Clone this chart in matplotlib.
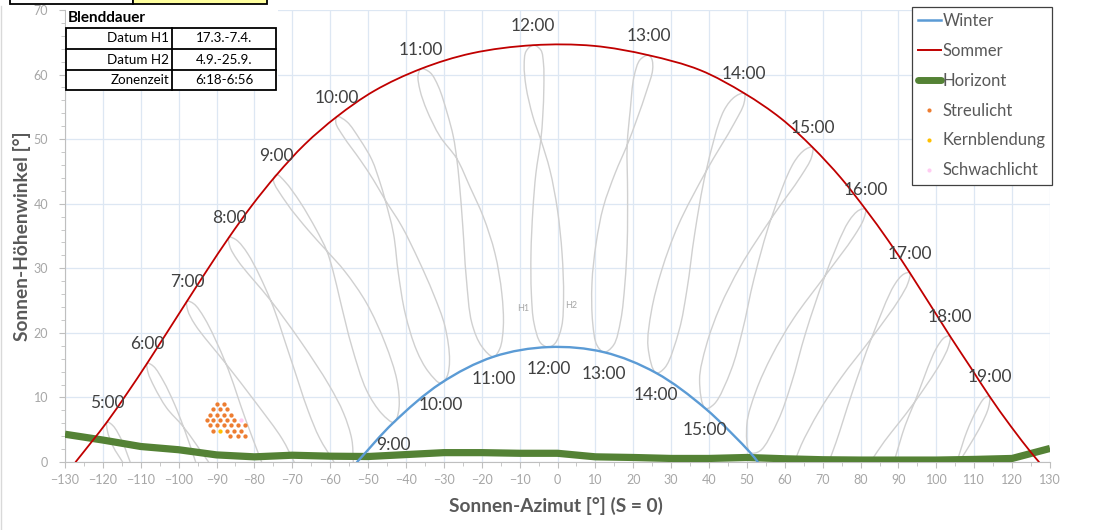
import numpy as np
import matplotlib
matplotlib.use("Agg")
import matplotlib.pyplot as plt
from matplotlib.path import Path
from matplotlib.patches import PathPatch, Rectangle
from matplotlib.lines import Line2D

plt.rcParams['font.family'] = ['Lato', 'DejaVu Sans']

# ---------------- data ----------------
# Sun path on the longest day (Sommer) and the shortest day (Winter): azimuth / altitude in degrees
summer_az = [-127.2, -123.0, -118.9, -113.3, -108.3, -97.8, -92.4, -86.7, -80.7, -74.1, -66.7,
             -58.2, -48.3, -36.0, -22.6, -6.4, 9.5, 24.0, 37.6, 49.3, 59.0, 67.3, 74.8, 81.3,
             87.3, 93.0, 103.6, 109.1, 114.0, 119.7, 125.1, 127.1]
summer_alt = [0.0, 3.1, 6.2, 10.9, 15.3, 24.9, 29.8, 34.8, 39.7, 44.5, 49.2,
              53.5, 57.5, 60.9, 63.3, 64.55, 64.45, 63.0, 60.7, 57.1, 53.2, 48.75, 44.0, 39.15,
              34.3, 29.3, 19.5, 14.6, 10.2, 5.5, 1.4, 0.0]

winter_az = [-52.9, -43.3, -30.8, -16.9, -2.3, 12.3, 26.0, 39.0, 50.8, 52.9]
winter_alt = [0.0, 6.1, 12.2, 16.3, 17.8, 17.0, 13.8, 8.3, 1.5, 0.0]

# Horizon profile
horizon_az = [-130, -120, -110, -100, -90, -80, -70, -60, -50, -40, -30, -20, -10, 0,
              10, 20, 30, 40, 50, 60, 70, 80, 90, 100, 110, 120, 130]
horizon_alt = [4.3, 3.4, 2.4, 1.9, 1.1, 0.8, 1.05, 0.9, 0.85, 1.15, 1.45, 1.45, 1.35, 1.35,
               0.8, 0.7, 0.55, 0.55, 0.7, 0.5, 0.35, 0.3, 0.3, 0.3, 0.4, 0.55, 2.1]

# Hour marks on the two solstice paths
summer_labels = ['5:00', '6:00', '7:00', '8:00', '9:00', '10:00', '11:00', '12:00',
                 '13:00', '14:00', '15:00', '16:00', '17:00', '18:00', '19:00']
summer_hour_az = [-118.9, -108.3, -97.8, -86.7, -74.1, -58.2, -36.0, -6.4,
                  24.0, 49.3, 67.3, 81.3, 93.0, 103.6, 114.0]
summer_hour_alt = [6.2, 15.3, 24.9, 34.8, 44.5, 53.5, 60.9, 64.55,
                   63.0, 57.1, 48.75, 39.15, 29.3, 19.5, 10.2]

winter_labels = ['9:00', '10:00', '11:00', '12:00', '13:00', '14:00', '15:00']
winter_hour_az = [-43.3, -30.8, -16.9, -2.3, 12.3, 26.0, 39.0]
winter_hour_alt = [6.1, 12.2, 16.3, 17.8, 17.0, 13.8, 8.3]

# Analemma of each full hour (Zonenzeit) over the year, points in seasonal order
loop_0500 = [(-112.8, 0.0), (-114.9, 3.2), (-117.3, 5.6), (-118.9, 6.2), (-118.8, 4.8),
             (-117.3, 2.4), (-114.8, 0.0)]
loop_0600 = [(-95.5, 0.0), (-98.7, 5.4), (-101.2, 9.1), (-104.0, 12.5), (-106.6, 14.8),
             (-108.3, 15.3), (-108.1, 13.9), (-106.4, 11.6), (-103.2, 8.4), (-98.7, 5.4),
             (-92.1, 0.0)]
loop_0700 = [(-78.1, 0.0), (-82.4, 6.7), (-87.5, 15.2), (-93.2, 22.3), (-96.0, 24.5),
             (-97.8, 24.9), (-97.6, 23.5), (-95.7, 21.3), (-87.5, 15.2), (-79.5, 9.1),
             (-72.7, 3.6), (-69.5, 0.0)]
loop_0800 = [(-59.0, 0.0), (-62.8, 3.7), (-65.8, 7.9), (-70.6, 16.3), (-75.7, 25.0),
             (-81.7, 32.2), (-84.8, 34.4), (-86.7, 34.8), (-86.5, 33.4), (-84.4, 31.2),
             (-75.7, 25.0), (-67.6, 18.5), (-60.3, 11.9), (-56.5, 7.6), (-54.3, 3.5),
             (-53.9, 0.0)]
loop_0900 = [(-43.3, 6.1), (-46.4, 7.5), (-50.4, 11.1), (-54.3, 17.9), (-57.2, 24.6),
             (-59.3, 29.7), (-60.9, 32.7), (-63.6, 35.9), (-68.0, 40.3), (-71.9, 43.4),
             (-74.1, 44.5), (-75.0, 43.7), (-71.5, 40.1), (-65.8, 35.9), (-60.9, 32.7),
             (-56.1, 29.5), (-50.4, 24.6), (-45.5, 18.4), (-42.4, 12.7), (-41.8, 8.6),
             (-42.6, 6.5), (-43.3, 6.1)]
loop_1000 = [(-30.8, 12.2), (-34.1, 14.0), (-37.2, 17.3), (-40.2, 23.0), (-42.0, 29.2),
             (-43.3, 35.4), (-45.5, 40.6), (-46.8, 43.2), (-49.0, 46.8), (-52.1, 49.9),
             (-55.6, 52.7), (-58.2, 53.5), (-58.5, 52.5), (-56.5, 50.4), (-52.1, 46.8),
             (-48.6, 43.7), (-45.5, 40.6), (-41.1, 36.5), (-36.7, 31.3), (-32.8, 26.1),
             (-29.7, 21.0), (-28.5, 15.8), (-29.2, 13.2), (-30.8, 12.2)]
loop_1100 = [(-16.9, 16.3), (-20.0, 17.9), (-22.6, 21.5), (-24.1, 28.7), (-25.0, 36.5),
             (-25.9, 43.2), (-26.6, 47.0), (-27.5, 50.4), (-29.1, 54.0), (-31.4, 58.1),
             (-33.6, 60.3), (-36.0, 60.9), (-36.8, 59.9), (-36.3, 57.6), (-34.5, 54.5),
             (-31.0, 50.4), (-26.6, 47.0), (-23.1, 42.6), (-19.6, 38.0), (-16.5, 32.3),
             (-14.7, 26.1), (-14.3, 21.0), (-15.2, 17.6), (-16.9, 16.3)]
loop_1200 = [(-2.3, 17.8), (-4.4, 18.4), (-6.2, 21.5), (-6.9, 26.1), (-7.0, 32.3),
             (-6.5, 39.0), (-5.7, 44.7), (-4.4, 49.9), (-3.9, 53.5), (-3.6, 58.1),
             (-3.7, 61.7), (-4.4, 63.8), (-6.4, 64.55), (-8.3, 63.6), (-8.8, 61.5),
             (-8.3, 58.1), (-6.5, 53.5), (-4.4, 49.9), (-2.0, 45.2), (0.0, 39.0),
             (1.2, 32.3), (1.6, 25.6), (1.1, 21.0), (-0.6, 18.4), (-2.3, 17.8)]
loop_1300 = [(12.3, 17.0), (10.4, 18.1), (9.3, 21.5), (9.1, 27.7), (10.2, 33.9),
             (12.1, 39.5), (15.2, 44.7), (18.4, 49.1), (20.9, 53.0), (23.6, 57.6),
             (25.1, 60.7), (24.9, 62.4), (24.0, 63.0), (21.8, 62.3), (20.2, 59.7),
             (19.2, 54.5), (18.4, 49.1), (18.5, 41.6), (18.4, 33.9), (17.8, 27.7),
             (16.7, 22.0), (14.8, 18.1), (12.3, 17.0)]
loop_1400 = [(26.0, 13.8), (23.9, 17.8), (24.8, 23.4), (27.5, 29.7), (31.9, 36.7),
             (39.2, 45.0), (46.6, 52.4), (49.2, 55.5), (49.3, 57.1), (46.9, 56.6),
             (43.9, 54.4), (39.2, 45.0), (36.2, 35.3), (34.2, 26.8), (32.1, 20.4),
             (28.4, 14.65), (26.0, 13.8)]
loop_1500 = [(39.0, 8.3), (37.5, 12.7), (39.3, 18.1), (42.9, 24.0), (48.3, 30.3),
             (56.4, 37.7), (64.3, 44.3), (67.0, 47.1), (67.3, 48.75), (65.4, 48.4),
             (62.4, 46.4), (56.4, 37.7), (51.9, 28.45), (48.8, 20.3), (45.8, 14.2),
             (41.4, 9.0), (39.0, 8.3)]
loop_1600 = [(50.8, 1.5), (50.0, 5.9), (52.4, 11.0), (56.6, 16.5), (62.3, 22.2),
             (70.6, 28.8), (78.2, 34.9), (80.8, 37.6), (81.3, 39.15), (79.6, 39.0),
             (76.8, 37.2), (70.6, 28.8), (65.5, 20.0), (61.7, 12.1), (58.2, 6.4),
             (53.4, 1.7), (50.8, 1.5)]
loop_1700 = [(62.6, 0.0), (64.3, 2.6), (68.9, 7.7), (74.8, 13.0), (82.9, 19.2),
             (90.1, 25.1), (92.5, 27.7), (93.0, 29.3), (91.4, 29.1), (88.9, 27.4),
             (82.9, 19.2), (77.7, 10.6), (73.5, 3.0), (71.6, 0.0)]
loop_1800 = [(82.6, 0.0), (86.3, 3.2), (89.9, 5.9), (94.3, 9.3), (101.0, 15.2),
             (103.2, 17.9), (103.6, 19.5), (102.2, 19.3), (99.9, 17.5), (94.3, 9.3),
             (91.8, 5.7), (88.8, 0.0)]
loop_1900 = [(106.0, 0.0), (109.3, 3.1), (111.8, 5.7), (113.8, 8.5), (114.0, 10.2),
             (112.7, 9.9), (110.6, 8.0), (108.1, 4.8), (105.4, 0.0)]

# Glare points
streu_az = [-89.9, -88.0,
            -90.85, -89.0, -87.15,
            -91.7, -89.9, -88.0, -86.2,
            -92.6, -90.85, -89.0, -87.15, -85.3,
            -91.7, -89.9, -88.0, -86.2, -84.3, -82.5,
            -90.85, -87.15, -85.3, -83.45,
            -86.4, -84.4, -82.5]
streu_alt = [8.98, 8.98,
             8.16, 8.16, 8.16,
             7.33, 7.33, 7.33, 7.33,
             6.51, 6.51, 6.51, 6.51, 6.51,
             5.68, 5.68, 5.68, 5.68, 5.68, 5.68,
             4.85, 4.85, 4.85, 4.85,
             4.03, 4.03, 4.03]
kern_az = [-89.0]
kern_alt = [4.85]
schwach_az = [-83.5]
schwach_alt = [6.51]

table_labels = ['Datum H1', 'Datum H2', 'Zonenzeit']
table_values = ['17.3.-7.4.', '4.9.-25.9.', '6:18-6:56']

# ---------------- helpers ----------------
# pixels per degree, used only to measure spacing between points for the spline
SX, SY = 3.788, 6.457


def smooth_path(points, closed=False, alpha=0.5):
    """Centripetal Catmull-Rom spline through the points, as cubic Bezier segments."""
    P = np.asarray(points, dtype=float)
    if closed:
        P = P[:-1]
    n = len(P)
    S = P * np.array([SX, SY])

    def dt(a, b):
        return max(np.hypot(*(S[b] - S[a])) ** alpha, 1e-6)

    M = np.zeros_like(P)
    for i in range(n):
        if closed:
            im, ip = (i - 1) % n, (i + 1) % n
        else:
            if i == 0:
                M[i] = (P[1] - P[0]) / dt(0, 1)
                continue
            if i == n - 1:
                M[i] = (P[-1] - P[-2]) / dt(n - 2, n - 1)
                continue
            im, ip = i - 1, i + 1
        d0, d1 = dt(im, i), dt(i, ip)
        M[i] = (P[i] - P[im]) / d0 - (P[ip] - P[im]) / (d0 + d1) + (P[ip] - P[i]) / d1
    segs = n if closed else n - 1
    verts = [P[0]]
    codes = [Path.MOVETO]
    for i in range(segs):
        j = (i + 1) % n
        d = dt(i, j)
        verts.extend([P[i] + M[i] * d / 3.0, P[j] - M[j] * d / 3.0, P[j]])
        codes.extend([Path.CURVE4] * 3)
    return Path(verts, codes)


def draw_curve(ax, points, closed, color, lw, zorder):
    patch = PathPatch(smooth_path(points, closed), facecolor='none', edgecolor=color,
                      lw=lw, zorder=zorder, capstyle='round', joinstyle='round')
    ax.add_patch(patch)


# ---------------- figure ----------------
W, H = 1093, 530
fig = plt.figure(figsize=(W / 100, H / 100), dpi=100)
fig.patch.set_facecolor('white')
ax = fig.add_axes([65 / W, (H - 462) / H, (1050 - 65) / W, (462 - 10) / H])

ax.set_xlim(-130, 130)
ax.set_ylim(0, 70)
ax.set_xticks(np.arange(-130, 131, 10))
ax.set_xticks(np.arange(-130, 131, 5), minor=True)
ax.set_yticks(np.arange(0, 71, 10))
ax.set_yticks(np.arange(0, 71, 2), minor=True)
ax.grid(which='major', color='#DDE7F3', lw=0.9)
ax.set_axisbelow(True)
for side in ('top', 'right'):
    ax.spines[side].set_visible(False)
for side in ('left', 'bottom'):
    ax.spines[side].set_color('#BFBFBF')
    ax.spines[side].set_linewidth(0.8)
ax.tick_params(which='both', direction='out', color='#BFBFBF', labelcolor='#A6A6A6',
               labelsize=9)
ax.tick_params(which='major', length=4)
ax.tick_params(which='minor', length=3)
ax.tick_params(axis='x', which='major', pad=5)
ax.tick_params(axis='y', which='major', pad=8)

loops = [loop_0500, loop_0600, loop_0700, loop_0800, loop_0900, loop_1000, loop_1100,
         loop_1200, loop_1300, loop_1400, loop_1500, loop_1600, loop_1700, loop_1800,
         loop_1900]
for pts in loops:
    closed = pts[0] == pts[-1]
    draw_curve(ax, pts, closed, '#D0D0D0', 1.0, 2)

ax.plot(horizon_az, horizon_alt, color='#548235', lw=5.2, solid_joinstyle='round',
        solid_capstyle='butt', zorder=3)
draw_curve(ax, list(zip(summer_az, summer_alt)), False, '#C00000', 1.3, 4)
draw_curve(ax, list(zip(winter_az, winter_alt)), False, '#5B9BD5', 1.7, 4)

ax.plot(streu_az, streu_alt, 'o', ms=3.1, color='#ED7D31', mec='none', zorder=5)
ax.plot(kern_az, kern_alt, 'o', ms=3.1, color='#FFC000', mec='none', zorder=5)
ax.plot(schwach_az, schwach_alt, 'o', ms=3.1, color='#FFCCF2', mec='none', zorder=5)

for lab, x, y in zip(summer_labels, summer_hour_az, summer_hour_alt):
    ax.annotate(lab, (x, y), xytext=(0, 19), textcoords='offset pixels', ha='center',
                va='center', fontsize=12.5, color='#404040', zorder=6)
for lab, x, y in zip(winter_labels, winter_hour_az, winter_hour_alt):
    ax.annotate(lab, (x, y), xytext=(0, -22), textcoords='offset pixels', ha='center',
                va='center', fontsize=12.5, color='#404040', zorder=6)

ax.text(-9.0, 23.8, 'H1', fontsize=6.5, color='#A6A6A6', ha='center', va='center')
ax.text(3.6, 24.2, 'H2', fontsize=6.5, color='#A6A6A6', ha='center', va='center')

handles = [
    Line2D([], [], color='#5B9BD5', lw=1.8),
    Line2D([], [], color='#C00000', lw=1.4),
    Line2D([], [], color='#548235', lw=5, solid_capstyle='round'),
    Line2D([], [], ls='', marker='o', ms=3, color='#ED7D31', mec='none'),
    Line2D([], [], ls='', marker='o', ms=3, color='#FFC000', mec='none'),
    Line2D([], [], ls='', marker='o', ms=3, color='#FFCCF2', mec='none'),
]
names = ['Winter', 'Sommer', 'Horizont', 'Streulicht', 'Kernblendung', 'Schwachlicht']
leg = ax.legend(handles, names, loc='upper left',
                bbox_to_anchor=(912 / W, 1 - 7 / H), bbox_transform=fig.transFigure,
                fontsize=12.0, frameon=True, fancybox=False, framealpha=1,
                edgecolor='#404040', handlelength=1.35, handletextpad=0.12,
                labelspacing=0.83, borderpad=0.37, borderaxespad=0)
leg.get_frame().set_linewidth(0.9)
for t in leg.get_texts():
    t.set_color('#595959')
leg.set_zorder(7)

fig.text(555.5 / W, 1 - 506 / H, 'Sonnen-Azimut [°] (S = 0)', ha='center', va='center',
         fontsize=13.8, fontweight='bold', color='#595959')
fig.text(22 / W, 1 - 236 / H, 'Sonnen-Höhenwinkel [°]', ha='center', va='center',
         rotation=90, fontsize=13.8, fontweight='bold', color='#595959')

# ---------------- overlay in pixel coordinates: info table and sheet cells ----------------
ov = fig.add_axes([0, 0, 1, 1], zorder=10)
ov.set_xlim(0, W)
ov.set_ylim(H, 0)
ov.axis('off')
ov.patch.set_alpha(0)

ov.plot([1, 1], [6, H], color='#D9D9D9', lw=1.0)
ov.add_patch(Rectangle((10, -3), 123, 6.5, facecolor='white', edgecolor='black', lw=1.3))
ov.add_patch(Rectangle((133, -3), 134, 6.5, facecolor='#FFFF9E', edgecolor='black', lw=1.3))

ov.add_patch(Rectangle((65.5, 9), 212, 82, facecolor='white', edgecolor='none'))
ov.text(68, 18.5, 'Blenddauer', ha='left', va='center', fontsize=11, fontweight='bold',
        color='black')
tx0, tx1, tx2 = 66, 172.3, 276
ty = [27.7, 49, 70, 90]
ov.add_patch(Rectangle((tx0, ty[0]), tx2 - tx0, ty[3] - ty[0], facecolor='white',
                       edgecolor='black', lw=1.3))
ov.plot([tx1, tx1], [ty[0], ty[3]], color='black', lw=1.3)
for yy in ty[1:3]:
    ov.plot([tx0, tx2], [yy, yy], color='black', lw=1.3)
for i, (lab, val) in enumerate(zip(table_labels, table_values)):
    yc = (ty[i] + ty[i + 1]) / 2
    ov.text(tx1 - 3, yc, lab, ha='right', va='center', fontsize=9.6, color='black')
    ov.text((tx1 + tx2) / 2, yc, val, ha='center', va='center', fontsize=9.6, color='black')

fig.savefig('out.png', dpi=100)
